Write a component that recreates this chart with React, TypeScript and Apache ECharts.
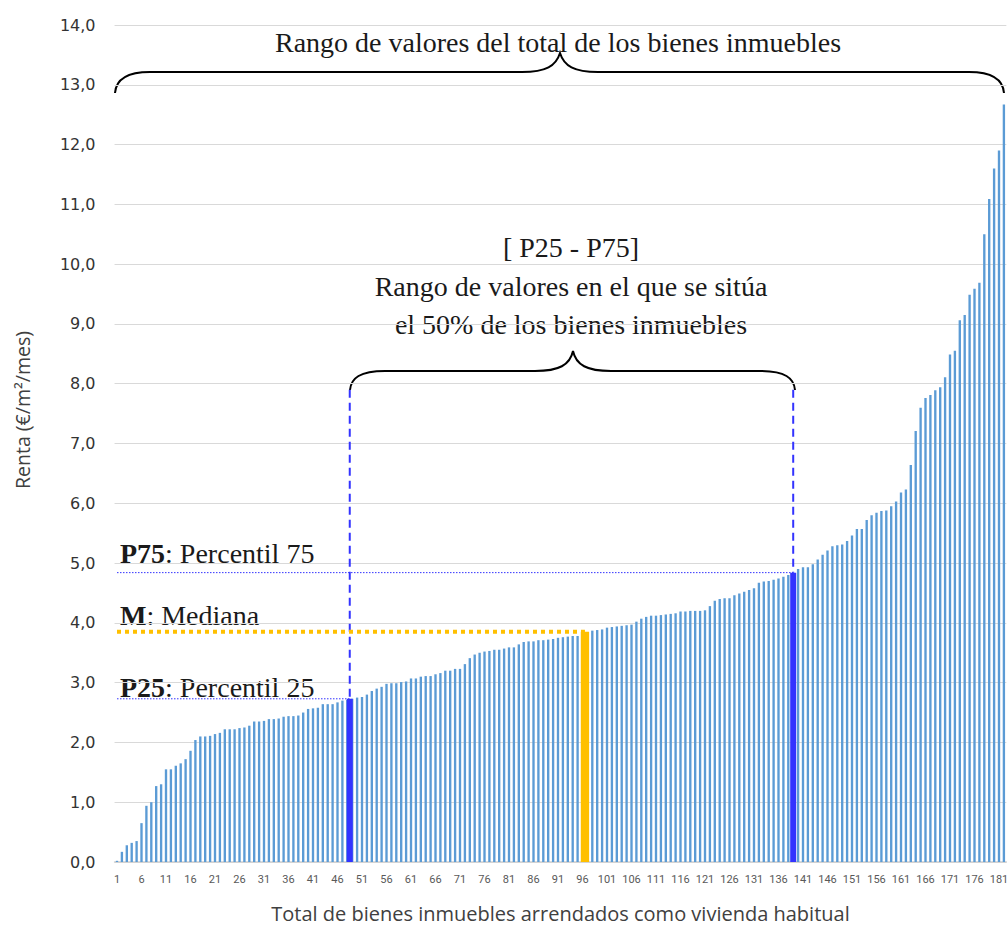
import React, { useEffect, useRef } from 'react';
import * as echarts from 'echarts';

// Category labels: property number 1..182
const categories: string[] = [
  '1','2','3','4','5','6','7','8','9','10','11','12','13','14','15','16','17','18','19','20',
  '21','22','23','24','25','26','27','28','29','30','31','32','33','34','35','36','37','38','39','40',
  '41','42','43','44','45','46','47','48','49','50','51','52','53','54','55','56','57','58','59','60',
  '61','62','63','64','65','66','67','68','69','70','71','72','73','74','75','76','77','78','79','80',
  '81','82','83','84','85','86','87','88','89','90','91','92','93','94','95','96','97','98','99','100',
  '101','102','103','104','105','106','107','108','109','110','111','112','113','114','115','116','117','118','119','120',
  '121','122','123','124','125','126','127','128','129','130','131','132','133','134','135','136','137','138','139','140',
  '141','142','143','144','145','146','147','148','149','150','151','152','153','154','155','156','157','158','159','160',
  '161','162','163','164','165','166','167','168','169','170','171','172','173','174','175','176','177','178','179','180',
  '181','182',
];

// Rent (€/m²/month), sorted ascending
const rentValues: number[] = [
  0.02, 0.17, 0.28, 0.32, 0.35, 0.65, 0.94, 1.00, 1.27, 1.30,
  1.55, 1.55, 1.61, 1.65, 1.72, 1.86, 2.04, 2.10, 2.10, 2.11,
  2.14, 2.16, 2.22, 2.22, 2.22, 2.24, 2.25, 2.28, 2.35, 2.35,
  2.36, 2.39, 2.39, 2.40, 2.43, 2.44, 2.44, 2.45, 2.50, 2.56,
  2.57, 2.58, 2.64, 2.64, 2.64, 2.67, 2.70, 2.71, 2.73, 2.75,
  2.76, 2.80, 2.86, 2.90, 2.93, 2.98, 2.99, 2.99, 3.01, 3.02,
  3.07, 3.07, 3.10, 3.11, 3.11, 3.14, 3.16, 3.20, 3.20, 3.23,
  3.23, 3.31, 3.41, 3.47, 3.50, 3.52, 3.53, 3.55, 3.55, 3.57,
  3.59, 3.59, 3.64, 3.68, 3.69, 3.69, 3.71, 3.71, 3.72, 3.73,
  3.75, 3.76, 3.77, 3.78, 3.78, 3.80, 3.84, 3.87, 3.88, 3.89,
  3.92, 3.93, 3.94, 3.95, 3.96, 3.97, 4.02, 4.07, 4.10, 4.12,
  4.12, 4.13, 4.14, 4.15, 4.16, 4.19, 4.19, 4.20, 4.20, 4.20,
  4.21, 4.28, 4.37, 4.40, 4.41, 4.41, 4.46, 4.49, 4.52, 4.55,
  4.58, 4.67, 4.69, 4.70, 4.72, 4.74, 4.77, 4.80, 4.83, 4.90,
  4.93, 4.93, 4.98, 5.06, 5.14, 5.21, 5.28, 5.30, 5.31, 5.37,
  5.46, 5.57, 5.57, 5.72, 5.80, 5.84, 5.87, 5.88, 5.95, 6.03,
  6.18, 6.23, 6.64, 7.21, 7.60, 7.76, 7.81, 7.89, 7.94, 8.11,
  8.49, 8.55, 9.06, 9.15, 9.49, 9.59, 9.69, 10.50, 11.09, 11.60,
  11.90, 12.67,
];

// Percentile markers (P25, median, P75)
const markerNames: string[] = ['P25', 'M', 'P75'];
const markerFirstIndex: number[] = [47, 95, 138];
const markerLastIndex: number[] = [48, 96, 138];
const markerValues: number[] = [2.73, 3.85, 4.84];
const bracketTopValue = 7.9;

// Styles for markers (kept apart from the data)
const markerStyles = [
  { fill: '#3333FF', width: 6, line: '#3333FF', lineWidth: 1, dash: [1.5, 1.5], vertical: true },
  { fill: '#FFC000', width: 8.3, line: '#FFC000', lineWidth: 4, dash: [4, 4], vertical: false },
  { fill: '#3333FF', width: 6, line: '#3333FF', lineWidth: 1, dash: [1.5, 1.5], vertical: true },
];

const BIG_BRACE =
  'M115,93 C116,80 126,72 150,72 L522,72 C546,72 556,66 560,53 C564,66 574,72 598,72 L969,72 C993,72 1003,80 1004,93';
const SMALL_BRACE =
  'M350,390 C351,378 360,371 385,371 L535,371 C559,371 570,365 573,351 C576,365 587,371 611,371 L760,371 C785,371 794,378 795,390';

echarts.graphic.registerShape('braceBig', echarts.graphic.extendPath(BIG_BRACE, {}));
echarts.graphic.registerShape('braceSmall', echarts.graphic.extendPath(SMALL_BRACE, {}));

const SERIF = '"Liberation Serif", "DejaVu Serif", serif';
const SERIF_SIZE = 28;
const SANS = '"Open Sans", sans-serif';

export default function App() {
  const ref = useRef<HTMLDivElement>(null);

  useEffect(() => {
    if (!ref.current) return;
    const chart = echarts.init(ref.current, undefined, { renderer: 'svg' });

    const markerData = markerNames.map((n, i) => ({
      name: n,
      value: [markerFirstIndex[i], markerLastIndex[i], markerValues[i]],
    }));

    const labelText = (bold: string, rest: string) => ({
      text: `{b|${bold}}{r|${rest}}`,
      rich: {
        b: { fontFamily: SERIF, fontSize: SERIF_SIZE, fontWeight: 'bold', fill: '#1a1a1a' },
        r: { fontFamily: SERIF, fontSize: SERIF_SIZE, fill: '#1a1a1a' },
      },
    });

    const option: any = {
      animation: false,
      grid: {
        left: 114.55,
        right: 1.65,
        top: 25,
        bottom: 65,
        containLabel: false,
        outerBoundsMode: 'none',
      },
      xAxis: {
        type: 'category',
        data: categories,
        name: 'Total de bienes inmuebles arrendados como vivienda habitual',
        nameLocation: 'middle',
        nameGap: 41,
        nameTextStyle: { fontFamily: SANS, fontSize: 20, color: '#404040' },
        axisLine: { show: true, lineStyle: { color: '#D0D0D0', width: 1.5 } },
        axisTick: { show: false },
        axisLabel: {
          interval: 4,
          margin: 12,
          fontFamily: 'Roboto, sans-serif',
          fontSize: 11,
          color: '#595959',
        },
        splitLine: { show: false },
      },
      yAxis: {
        type: 'value',
        min: 0,
        max: 14,
        interval: 1,
        axisLine: { show: false },
        axisTick: { show: false },
        axisLabel: {
          margin: 19,
          fontFamily: '"DejaVu Sans", sans-serif',
          fontSize: 16,
          color: '#333333',
          formatter: (v: number) => v.toFixed(1).replace('.', ','),
        },
        splitLine: { lineStyle: { color: '#D9D9D9', width: 1 } },
      },
      series: [
        {
          type: 'bar',
          name: 'Renta',
          data: rentValues,
          barWidth: '48%',
          itemStyle: { color: '#5B9BD5' },
          silent: true,
        },
        {
          type: 'custom',
          name: 'Percentiles',
          data: markerData,
          encode: { x: 0, y: 2 },
          z: 5,
          renderItem: (params: any, api: any) => {
            const i0 = api.value(0);
            const i1 = api.value(1);
            const v = api.value(2);
            const st = markerStyles[params.dataIndex];
            const p0 = api.coord([i0, v]);
            const p1 = api.coord([i1, v]);
            const cx = (p0[0] + p1[0]) / 2;
            const top = p0[1];
            const base = api.coord([i0, 0])[1];
            const start = api.coord([0, v]);
            const children: any[] = [
              {
                type: 'line',
                shape: { x1: start[0], y1: top, x2: cx, y2: top },
                style: { stroke: st.line, lineWidth: st.lineWidth, lineDash: st.dash, fill: null },
              },
              {
                type: 'rect',
                shape: { x: cx - st.width / 2, y: top, width: st.width, height: base - top },
                style: { fill: st.fill },
              },
            ];
            if (st.vertical) {
              const yTop = api.coord([i0, bracketTopValue])[1];
              children.push({
                type: 'line',
                shape: { x1: cx, y1: yTop, x2: cx, y2: top },
                style: { stroke: '#3333FF', lineWidth: 2, lineDash: [8, 5], fill: null },
              });
            }
            return { type: 'group', children };
          },
        },
      ],
      graphic: [
        { type: 'braceBig', x: 0, y: 0, style: { stroke: '#000', fill: 'none', lineWidth: 2 } },
        { type: 'braceSmall', x: 0, y: 0, style: { stroke: '#000', fill: 'none', lineWidth: 2 } },
        {
          type: 'text', x: 22, y: 410, rotation: Math.PI / 2,
          style: { text: 'Renta (€/m²/mes)', fontFamily: SANS, fontSize: 19.5, fill: '#404040', align: 'center', verticalAlign: 'middle' },
        },
        {
          type: 'text', x: 558, y: 42,
          style: { text: 'Rango de valores del total de los bienes inmuebles', fontFamily: SERIF, fontSize: SERIF_SIZE, fill: '#1a1a1a', align: 'center', verticalAlign: 'middle' },
        },
        {
          type: 'text', x: 571, y: 247,
          style: { text: '[ P25 - P75]', fontFamily: SERIF, fontSize: SERIF_SIZE, fill: '#1a1a1a', align: 'center', verticalAlign: 'middle' },
        },
        {
          type: 'text', x: 571, y: 286,
          style: { text: 'Rango de valores en el que se sitúa', fontFamily: SERIF, fontSize: SERIF_SIZE, fill: '#1a1a1a', align: 'center', verticalAlign: 'middle' },
        },
        {
          type: 'text', x: 571, y: 324,
          style: { text: 'el 50% de los bienes inmuebles', fontFamily: SERIF, fontSize: SERIF_SIZE, fill: '#1a1a1a', align: 'center', verticalAlign: 'middle' },
        },
        {
          type: 'text', x: 120, y: 553,
          style: { ...labelText('P75', ': Percentil 75'), align: 'left', verticalAlign: 'middle' },
        },
        {
          type: 'text', x: 120, y: 615,
          style: { ...labelText('M', ': Mediana'), align: 'left', verticalAlign: 'middle' },
        },
        {
          type: 'text', x: 120, y: 687,
          style: { ...labelText('P25', ': Percentil 25'), align: 'left', verticalAlign: 'middle' },
        },
      ],
    };

    chart.setOption(option);
    return () => chart.dispose();
  }, []);

  return (
    <div
      ref={ref}
      style={{ position: 'absolute', left: 0, top: 0, width: 1008, height: 927, background: '#fff' }}
    />
  );
}
